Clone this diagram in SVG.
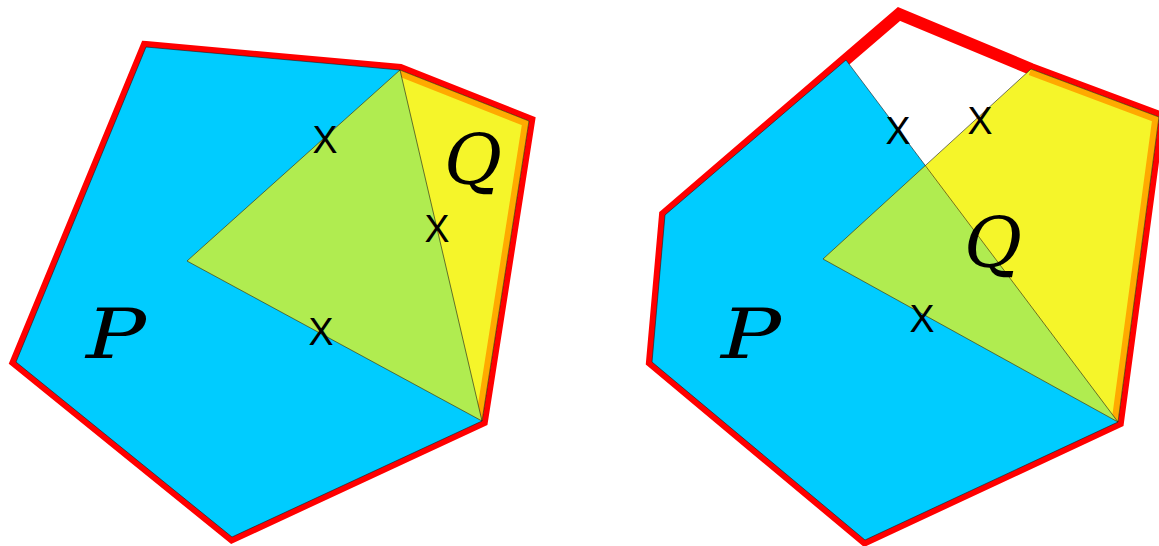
<svg xmlns="http://www.w3.org/2000/svg" width="1159" height="546" viewBox="0 0 1159 546">
<style>
.hull{fill:#fff;stroke:#ff0000;stroke-width:12;stroke-linejoin:miter}
.p{fill:#00ccff}
.q{fill:#f5f52a}
.pq{fill:#b0ec50}
.edge{fill:none;stroke:#1a1a1a;stroke-opacity:0.75;stroke-width:0.8;stroke-linejoin:miter}
.orange{fill:none;stroke:#ffaa00;stroke-width:13;stroke-linejoin:miter}
.mark{font-family:"Liberation Sans",Arial,sans-serif;font-size:39px;text-anchor:middle;fill:#000}
.lbl{font-family:"DejaVu Serif","Liberation Serif",serif;font-style:italic;font-size:70px;fill:#000}
</style>
<defs>
<clipPath id="clipQL"><polygon points="187,261 400,70 529,121 482,421"/></clipPath>
<clipPath id="clipQR"><polygon points="823,259 1031,69 1159,117 1118,422"/></clipPath>
</defs>

<g id="left-figure">
  <polygon id="hull-left" class="hull" points="146,47 400,70 529,121 482,421 232,537 16,362"/>
  <g id="P-left">
    <polygon class="p" points="146,47 400,70 482,421 232,537 16,362"/>
  </g>
  <g id="Q-left">
    <polygon class="q" points="187,261 400,70 529,121 482,421"/>
    <polyline class="orange" clip-path="url(#clipQL)" points="400,70 529,121 482,421"/>
  </g>
  <g id="PQ-left">
    <polygon class="pq" points="187,261 400,70 482,421"/>
  </g>
  <polygon class="edge" points="146,47 400,70 482,421 232,537 16,362"/>
  <polygon class="edge" points="187,261 400,70 529,121 482,421"/>
  <g id="marks-left">
    <text class="mark" x="325" y="153" textLength="25" lengthAdjust="spacingAndGlyphs">X</text>
    <text class="mark" x="437" y="242" textLength="25" lengthAdjust="spacingAndGlyphs">X</text>
    <text class="mark" x="321" y="345" textLength="25" lengthAdjust="spacingAndGlyphs">X</text>
  </g>
  <text id="label-P-left" class="lbl" x="86" y="358" textLength="60" lengthAdjust="spacingAndGlyphs">P</text>
  <text id="label-Q-left" class="lbl" x="444" y="184" textLength="58" lengthAdjust="spacingAndGlyphs">Q</text>
</g>

<g id="right-figure">
  <polygon id="hull-right" class="hull" points="665,215 899,14 1031,69 1159,117 1118,422 865,540 652,362"/>
  <g id="P-right">
    <polygon class="p" points="665,215 846,60 1118,422 865,540 652,362"/>
  </g>
  <g id="Q-right">
    <polygon class="q" points="823,259 1031,69 1159,117 1118,422"/>
    <polyline class="orange" clip-path="url(#clipQR)" points="1031,69 1159,117 1118,422"/>
  </g>
  <g id="PQ-right">
    <polygon class="pq" points="823,259 925,166 1118,422"/>
  </g>
  <polygon class="edge" points="665,215 846,60 1118,422 865,540 652,362"/>
  <polygon class="edge" points="823,259 1031,69 1159,117 1118,422"/>
  <g id="marks-right">
    <text class="mark" x="898" y="144" textLength="25" lengthAdjust="spacingAndGlyphs">X</text>
    <text class="mark" x="980" y="134" textLength="25" lengthAdjust="spacingAndGlyphs">X</text>
    <text class="mark" x="922" y="332" textLength="25" lengthAdjust="spacingAndGlyphs">X</text>
  </g>
  <text id="label-P-right" class="lbl" x="721" y="358" textLength="60" lengthAdjust="spacingAndGlyphs">P</text>
  <text id="label-Q-right" class="lbl" x="964" y="267" textLength="58" lengthAdjust="spacingAndGlyphs">Q</text>
</g>
</svg>
